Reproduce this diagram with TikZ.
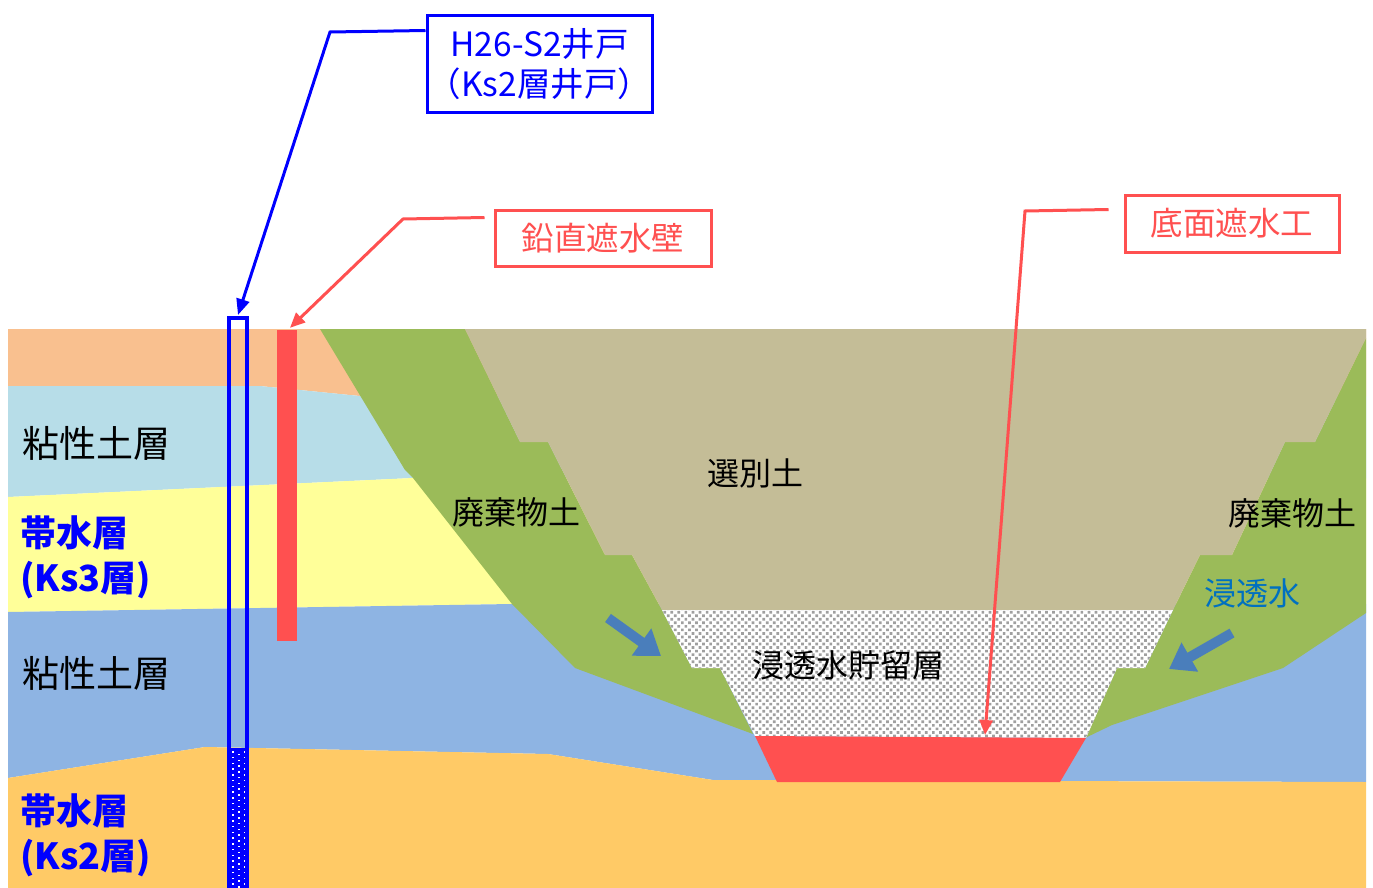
\documentclass[tikz,border=0pt]{standalone}
\usepackage{fontspec}
\setmainfont{Noto Sans CJK JP}
\usetikzlibrary{arrows.meta,calc,patterns.meta}

\definecolor{topsoil}{HTML}{F9C08F}
\definecolor{claylight}{HTML}{B7DDE8}
\definecolor{aquiferthree}{HTML}{FFFF99}
\definecolor{claydeep}{HTML}{8EB4E3}
\definecolor{aquifertwo}{HTML}{FFCA66}
\definecolor{wastesoil}{HTML}{9BBB59}
\definecolor{selectsoil}{HTML}{C4BD97}
\definecolor{sealred}{HTML}{FF5050}
\definecolor{wellblue}{HTML}{0000FF}
\definecolor{seeptext}{HTML}{0070C0}
\definecolor{seeparrow}{HTML}{4A7EBB}

\begin{document}
\begin{tikzpicture}[x=1pt,y=-1pt,
  txt/.style={font=\fontsize{32pt}{38pt}\selectfont, inner sep=0pt},
  bigtxt/.style={font=\fontsize{37pt}{45pt}\selectfont, inner sep=0pt, align=left, anchor=west},
  aqtxt/.style={bigtxt, font=\bfseries\fontsize{36pt}{45pt}\selectfont, text=wellblue},
  tagred/.style={draw=sealred, line width=3pt, text=sealred, inner sep=0pt,
    font=\fontsize{32.5pt}{38pt}\selectfont},
  tagblue/.style={draw=wellblue, line width=3pt, text=wellblue, inner sep=0pt, align=center,
    font=\fontsize{33.5pt}{40pt}\selectfont},
  leadblue/.style={draw=wellblue, line width=3pt, -{Triangle[length=16pt,width=13pt]}},
  leadred/.style={draw=sealred, line width=3pt, -{Triangle[length=15pt,width=13pt]}},
  seep/.style={draw=seeparrow, line width=10pt, -{Triangle[length=24pt,width=32pt]}}
]
\useasboundingbox (0,0) rectangle (1373,888);
\fill[white] (0,0) rectangle (1373,888);

% ground strata, left to right across the section
\fill[topsoil] (8,329) -- (1366,329) -- (1366,396) -- (360,396) -- (260,386) -- (8,386) -- cycle;
\fill[claylight] (8,386) -- (260,386) -- (360,396) -- (1366,396) -- (1366,478) -- (413,478) -- (8,497) -- cycle;
\fill[aquiferthree] (8,497) -- (413,478) -- (1366,478) -- (1366,604) -- (512,604) -- (8,612) -- cycle;
\fill[claydeep] (8,612) -- (512,604) -- (1366,604) -- (1366,782) -- (713,780) -- (548,754) -- (205,747) -- (8,778) -- cycle;
\fill[aquifertwo] (8,778) -- (205,747) -- (548,754) -- (713,780) -- (1366,782) -- (1366,888) -- (8,888) -- cycle;

% waste soil banks
\fill[wastesoil] (320,329) -- (465,329) -- (520,442) -- (548,442) -- (605,555) -- (632,555)
  -- (662,610) -- (692,668) -- (720,668) -- (753,734) -- (575,668) -- (512,604)
  -- (413,478) -- (405,470) -- cycle;
\fill[wastesoil] (1366,338) -- (1315,442) -- (1285,442) -- (1232,555) -- (1200,555)
  -- (1173,610) -- (1145,668) -- (1117,668) -- (1085,738) -- (1112,725) -- (1283,668)
  -- (1366,613) -- cycle;

% selected soil fill
\fill[selectsoil] (465,329) -- (1366,329) -- (1366,338) -- (1315,442) -- (1285,442)
  -- (1232,555) -- (1200,555) -- (1173,610) -- (662,610) -- (632,555) -- (605,555)
  -- (548,442) -- (520,442) -- cycle;

% seepage storage layer (gravel)
\fill[white] (662,610) -- (1173,610) -- (1145,668) -- (1117,668) -- (1086,738)
  -- (755,736) -- (720,668) -- (692,668) -- cycle;
\fill[pattern={Dots[radius=1.9pt,distance=5pt,angle=45]}, pattern color=gray!75]
  (662,610) -- (1173,610) -- (1145,668) -- (1117,668) -- (1086,738)
  -- (755,736) -- (720,668) -- (692,668) -- cycle;

% bottom sealing
\fill[sealred] (755,736) -- (1086,738) -- (1060,782) -- (777,782) -- cycle;
\coordinate (basetop) at (985,735);

% vertical cut-off wall
\node[fill=sealred, minimum width=20pt, minimum height=311pt, inner sep=0pt] (wall) at (287,485.5) {};

% observation well with screened section
\fill[wellblue] (229,748) rectangle (247,890);
\foreach \i in {0,...,23} {
  \fill[white] (232.3,{751+5.75*\i}) rectangle +(1.5,1.5);
  \fill[white] (244.3,{751+5.75*\i}) rectangle +(1.5,1.5);
  \fill[white] (238.3,{753.9+5.75*\i}) rectangle +(1.5,1.5);
}
\node[draw=wellblue, line width=4pt, minimum width=18pt, minimum height=572pt, inner sep=0pt] (well) at (238,604) {};

% stratum labels
\node[bigtxt] (clayA) at (22,443) {粘性土層};
\node[bigtxt] (clayB) at (22,673) {粘性土層};
\node[aqtxt] (ksthree) at (20,557) {帯水層\\(Ks3層)};
\node[aqtxt] (kstwo) at (20,835) {帯水層\\(Ks2層)};

\node[txt] (wasteL) at (516,512) {廃棄物土};
\node[txt] (wasteR) at (1292,513) {廃棄物土};
\node[txt] (select) at (755,473) {選別土};
\node[txt] (storage) at (848,665) {浸透水貯留層};
\node[txt, text=seeptext] (seepword) at (1252,593) {浸透水};

% seepage arrows
\coordinate (seepLa) at (608,618);
\coordinate (seepLb) at (661,656);
\coordinate (seepRa) at (1232,633);
\coordinate (seepRb) at (1169,669);
\draw[seep] (seepLa) -- (seepLb);
\draw[seep] (seepRa) -- (seepRb);

% callout boxes
\node[tagblue, minimum width=225pt, minimum height=97pt] (welltag) at (539.5,64.5) {H26-S2井戸\\（Ks2層井戸）};
\node[tagred, minimum width=216pt, minimum height=56pt] (walltag) at (603,238) {鉛直遮水壁};
\node[tagred, minimum width=214pt, minimum height=57pt] (basetag) at (1232,223.5) {底面遮水工};

\coordinate (wellbend) at (330,32);
\coordinate (wallbend) at (403,219);
\coordinate (basebend) at (1025,211);
\draw[leadblue] ($(welltag.north west)+(0,16)$) -- (wellbend) -- ([yshift=1pt]well.north);
\draw[leadred] ($(walltag.north west)+(-9,9)$) -- (wallbend) -- ([xshift=3pt,yshift=2pt]wall.north);
\draw[leadred] ($(basetag.north west)+(-15,16)$) -- (basebend) -- (basetop);
\end{tikzpicture}
\end{document}
